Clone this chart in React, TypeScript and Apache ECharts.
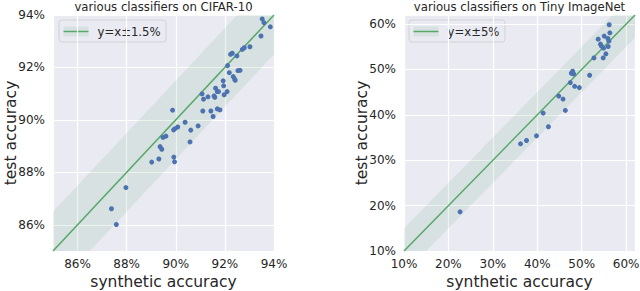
import { useEffect, useRef } from "react";
import * as echarts from "echarts";

// ---- data ----
const cifarSynthetic = [
  93.52, 93.59, 93.85, 93.47, 93.02, 92.79, 92.71, 92.30, 92.23, 92.49,
  92.11, 92.53, 92.62, 92.18, 92.34, 92.40, 92.42, 91.93, 91.95, 91.62,
  91.69, 91.74, 92.09, 91.97, 91.56, 91.59, 91.31, 91.07, 91.13, 89.87,
  91.10, 91.43, 91.69, 91.80, 91.52, 90.38, 90.91, 90.08, 89.96, 89.91,
  90.61, 89.60, 89.48, 90.58, 89.36, 89.43, 89.92, 89.95, 89.31, 89.02,
  87.97, 87.38, 87.58,
];
const cifarTest = [
  93.85, 93.71, 93.55, 93.20, 92.79, 92.75, 92.69, 92.54, 92.50, 92.44,
  92.07, 91.88, 91.89, 91.80, 91.65, 91.55, 91.51, 91.49, 91.30, 91.21,
  91.08, 91.08, 91.08, 90.96, 90.91, 90.86, 90.88, 90.99, 90.79, 90.37,
  90.34, 90.34, 90.42, 90.38, 90.13, 89.91, 89.77, 89.73, 89.66, 89.62,
  89.61, 89.38, 89.33, 89.16, 88.98, 88.88, 88.58, 88.40, 88.51, 88.39,
  87.42, 86.61, 86.01,
];
const cifarRange = [85, 94];
const cifarMargin = 1.5;

const tinySynthetic = [
  56.19, 56.34, 55.07, 53.72, 55.89, 56.12, 54.24, 54.47, 54.92, 55.96,
  55.45, 54.84, 52.75, 47.97, 47.67, 48.19, 51.78, 47.44, 48.41, 49.46,
  44.83, 45.80, 46.32, 41.32, 42.51, 39.82, 37.58, 36.23, 22.62,
];
const tinyTest = [
  59.85, 58.08, 57.35, 56.68, 56.83, 56.24, 55.58, 55.13, 54.69, 55.06,
  53.43, 52.54, 52.54, 49.60, 49.16, 49.00, 48.72, 47.10, 46.28, 46.00,
  44.14, 43.48, 40.97, 40.38, 37.37, 35.37, 34.34, 33.61, 18.63,
];
const tinyRange = [10, 62];
const tinyMargin = 5;

const titles = ["various classifiers on CIFAR-10", "various classifiers on Tiny ImageNet"];
const legendLabels = ["y=x±1.5%", "y=x±5%"];
const xName = "synthetic accuracy";
const yName = "test accuracy";

// ---- styles ----
const FONT = "DejaVu Sans";
const TEXT = "#262626";
const BG = "#EAEAF2";
const BLUE = "#4C72B0";
const GREEN = "#55A868";
const BAND = "rgba(85,168,104,0.12)";

const grids = [
  { left: 53, top: 15, width: 221, height: 236 },
  { left: 404, top: 15, width: 231, height: 236 },
];

function axisCommon(idx: number, range: number[], name: string, isX: boolean, hideMin: boolean) {
  return {
    type: "value",
    gridIndex: idx,
    min: range[0],
    max: range[1],
    splitNumber: 5,
    axisLine: { show: false },
    axisTick: { show: false },
    splitLine: { show: true, lineStyle: { color: "#ffffff", width: 1.2 } },
    axisLabel: {
      formatter: "{value}%",
      color: TEXT,
      fontSize: 12,
      fontFamily: FONT,
      margin: isX ? 7 : 8,
      showMinLabel: !hideMin,
      showMaxLabel: hideMin,
    },
    name,
    nameLocation: "middle",
    nameMoveOverlap: false,
    nameGap: isX ? 23 : 34,
    nameTextStyle: { fontSize: 15.5, color: TEXT, fontFamily: FONT },
  };
}

function bandSeries(idx: number, range: number[], margin: number) {
  return {
    type: "custom",
    xAxisIndex: idx,
    yAxisIndex: idx,
    clip: true,
    silent: true,
    z: 1,
    data: [[range[0], range[1], margin]],
    renderItem: (_params: any, api: any) => {
      const x0 = api.value(0);
      const x1 = api.value(1);
      const m = api.value(2);
      const pts = [
        [x0, x0 - m],
        [x1, x1 - m],
        [x1, x1 + m],
        [x0, x0 + m],
      ].map((p) => api.coord(p));
      return { type: "polygon", shape: { points: pts }, style: { fill: BAND } };
    },
  };
}

function legendGraphic(x: number, y: number, w: number, label: string) {
  return {
    type: "group",
    x,
    y,
    z: 100,
    children: [
      {
        type: "rect",
        shape: { x: 0, y: 0, width: w, height: 22, r: 3 },
        style: { fill: "rgba(234,234,242,0.8)", stroke: "rgba(204,204,204,0.8)", lineWidth: 1 },
      },
      { type: "rect", shape: { x: 4.5, y: 6.5, width: 25, height: 10 }, style: { fill: BAND } },
      {
        type: "line",
        shape: { x1: 4.5, y1: 11.5, x2: 29.5, y2: 11.5 },
        style: { stroke: GREEN, lineWidth: 1.5 },
      },
      {
        type: "text",
        x: 38.5,
        y: 11.5,
        style: { text: label, fill: TEXT, fontSize: 11.7, fontFamily: FONT, verticalAlign: "middle" },
      },
    ],
  };
}

export default function App() {
  const ref = useRef<HTMLDivElement>(null);
  useEffect(() => {
    if (!ref.current) return;
    const chart = echarts.init(ref.current, null, { renderer: "svg" });
    const option: any = {
      animation: false,
      textStyle: { fontFamily: FONT },
      title: [
        {
          text: titles[0],
          left: grids[0].left + grids[0].width / 2,
          top: 1,
          padding: 0,
          textAlign: "center",
          textStyle: { fontSize: 11.7, fontWeight: "normal", color: TEXT, fontFamily: FONT },
        },
        {
          text: titles[1],
          left: grids[1].left + grids[1].width / 2,
          top: 1,
          padding: 0,
          textAlign: "center",
          textStyle: { fontSize: 11.7, fontWeight: "normal", color: TEXT, fontFamily: FONT },
        },
      ],
      grid: grids.map((g) => ({
        ...g,
        show: true,
        backgroundColor: BG,
        borderWidth: 0,
        containLabel: false,
        outerBoundsMode: "none",
      })),
      xAxis: [
        axisCommon(0, cifarRange, xName, true, true),
        axisCommon(1, tinyRange, xName, true, false),
      ],
      yAxis: [
        axisCommon(0, cifarRange, yName, false, true),
        axisCommon(1, tinyRange, yName, false, false),
      ],
      series: [
        bandSeries(0, cifarRange, cifarMargin),
        bandSeries(1, tinyRange, tinyMargin),
        {
          type: "line",
          name: legendLabels[0],
          xAxisIndex: 0,
          yAxisIndex: 0,
          data: [
            [cifarRange[0], cifarRange[0]],
            [cifarRange[1], cifarRange[1]],
          ],
          symbol: "none",
          lineStyle: { color: GREEN, width: 1.5 },
          z: 2,
          silent: true,
        },
        {
          type: "line",
          name: legendLabels[1],
          xAxisIndex: 1,
          yAxisIndex: 1,
          data: [
            [tinyRange[0], tinyRange[0]],
            [tinyRange[1], tinyRange[1]],
          ],
          symbol: "none",
          lineStyle: { color: GREEN, width: 1.5 },
          z: 2,
          silent: true,
        },
        {
          type: "scatter",
          xAxisIndex: 0,
          yAxisIndex: 0,
          data: cifarSynthetic.map((v, i) => [v, cifarTest[i]]),
          symbolSize: 5,
          itemStyle: { color: BLUE, opacity: 1 },
          z: 3,
        },
        {
          type: "scatter",
          xAxisIndex: 1,
          yAxisIndex: 1,
          data: tinySynthetic.map((v, i) => [v, tinyTest[i]]),
          symbolSize: 5,
          itemStyle: { color: BLUE, opacity: 1 },
          z: 3,
        },
      ],
      graphic: [
        legendGraphic(59, 20, 107, legendLabels[0]),
        legendGraphic(409, 20, 96, legendLabels[1]),
      ],
    };
    chart.setOption(option);
    return () => chart.dispose();
  }, []);
  return (
    <div
      ref={ref}
      style={{ position: "fixed", left: 0, top: 0, width: 640, height: 291, background: "#ffffff" }}
    />
  );
}
